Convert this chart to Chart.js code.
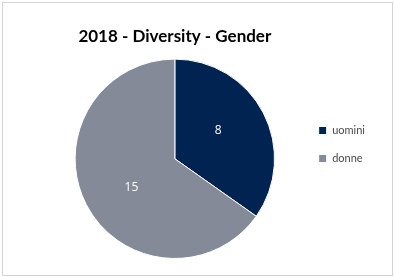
<!DOCTYPE html>
<html>
<head>
<meta charset="utf-8">
<script src="https://cdn.jsdelivr.net/npm/chart.js@4"></script>
<style>
  html, body { margin: 0; padding: 0; background: #fff; }
  #wrap { position: relative; width: 395px; height: 277px; }
  #frame { position: absolute; left: 2px; top: 2px; width: 389px; height: 272px;
           border: 1px solid #d4d4d4; pointer-events: none; }
</style>
</head>
<body>
<div id="wrap">
  <canvas id="chart" width="395" height="277"></canvas>
  <div id="frame"></div>
</div>
<script>
const titleText = "2018 - Diversity - Gender";
const categories = ["uomini", "donne"];
const values = [8, 15];
const colors = ["#002352", "#858a99"];

// draw the value inside each slice (roughly where Excel puts it)
const sliceLabels = {
  id: "sliceLabels",
  afterDatasetsDraw(chart) {
    const ctx = chart.ctx;
    const meta = chart.getDatasetMeta(0);
    ctx.save();
    ctx.fillStyle = "#ffffff";
    ctx.font = "12px 'Open Sans', sans-serif";
    ctx.textAlign = "center";
    ctx.textBaseline = "middle";
    meta.data.forEach((arc, i) => {
      const p = arc.getProps(["x", "y", "startAngle", "endAngle", "outerRadius"], true);
      const mid = (p.startAngle + p.endAngle) / 2 - 0.1;
      const r = p.outerRadius * 0.52;
      ctx.fillText(String(values[i]), p.x + Math.cos(mid) * r, p.y + Math.sin(mid) * r);
    });
    ctx.restore();
  }
};

new Chart(document.getElementById("chart"), {
  type: "pie",
  data: {
    labels: categories,
    datasets: [{
      data: values,
      backgroundColor: colors,
      borderColor: "#ffffff",
      borderWidth: 1
    }]
  },
  options: {
    responsive: false,
    animation: false,
    layout: { padding: { left: 48, right: 20, top: 30, bottom: 18 } },
    plugins: {
      title: {
        display: true,
        fullSize: false,
        text: titleText,
        color: "#000000",
        font: { family: "Lato", size: 17, weight: "bold", lineHeight: 0.8 },
        padding: { top: 0, bottom: 15 }
      },
      legend: {
        position: "right",
        labels: {
          boxWidth: 8,
          boxHeight: 8,
          padding: 17,
          color: "#4a4a4a",
          font: { family: "Lato", size: 11 }
        }
      },
      tooltip: { enabled: false }
    }
  },
  plugins: [sliceLabels]
});
</script>
</body>
</html>
